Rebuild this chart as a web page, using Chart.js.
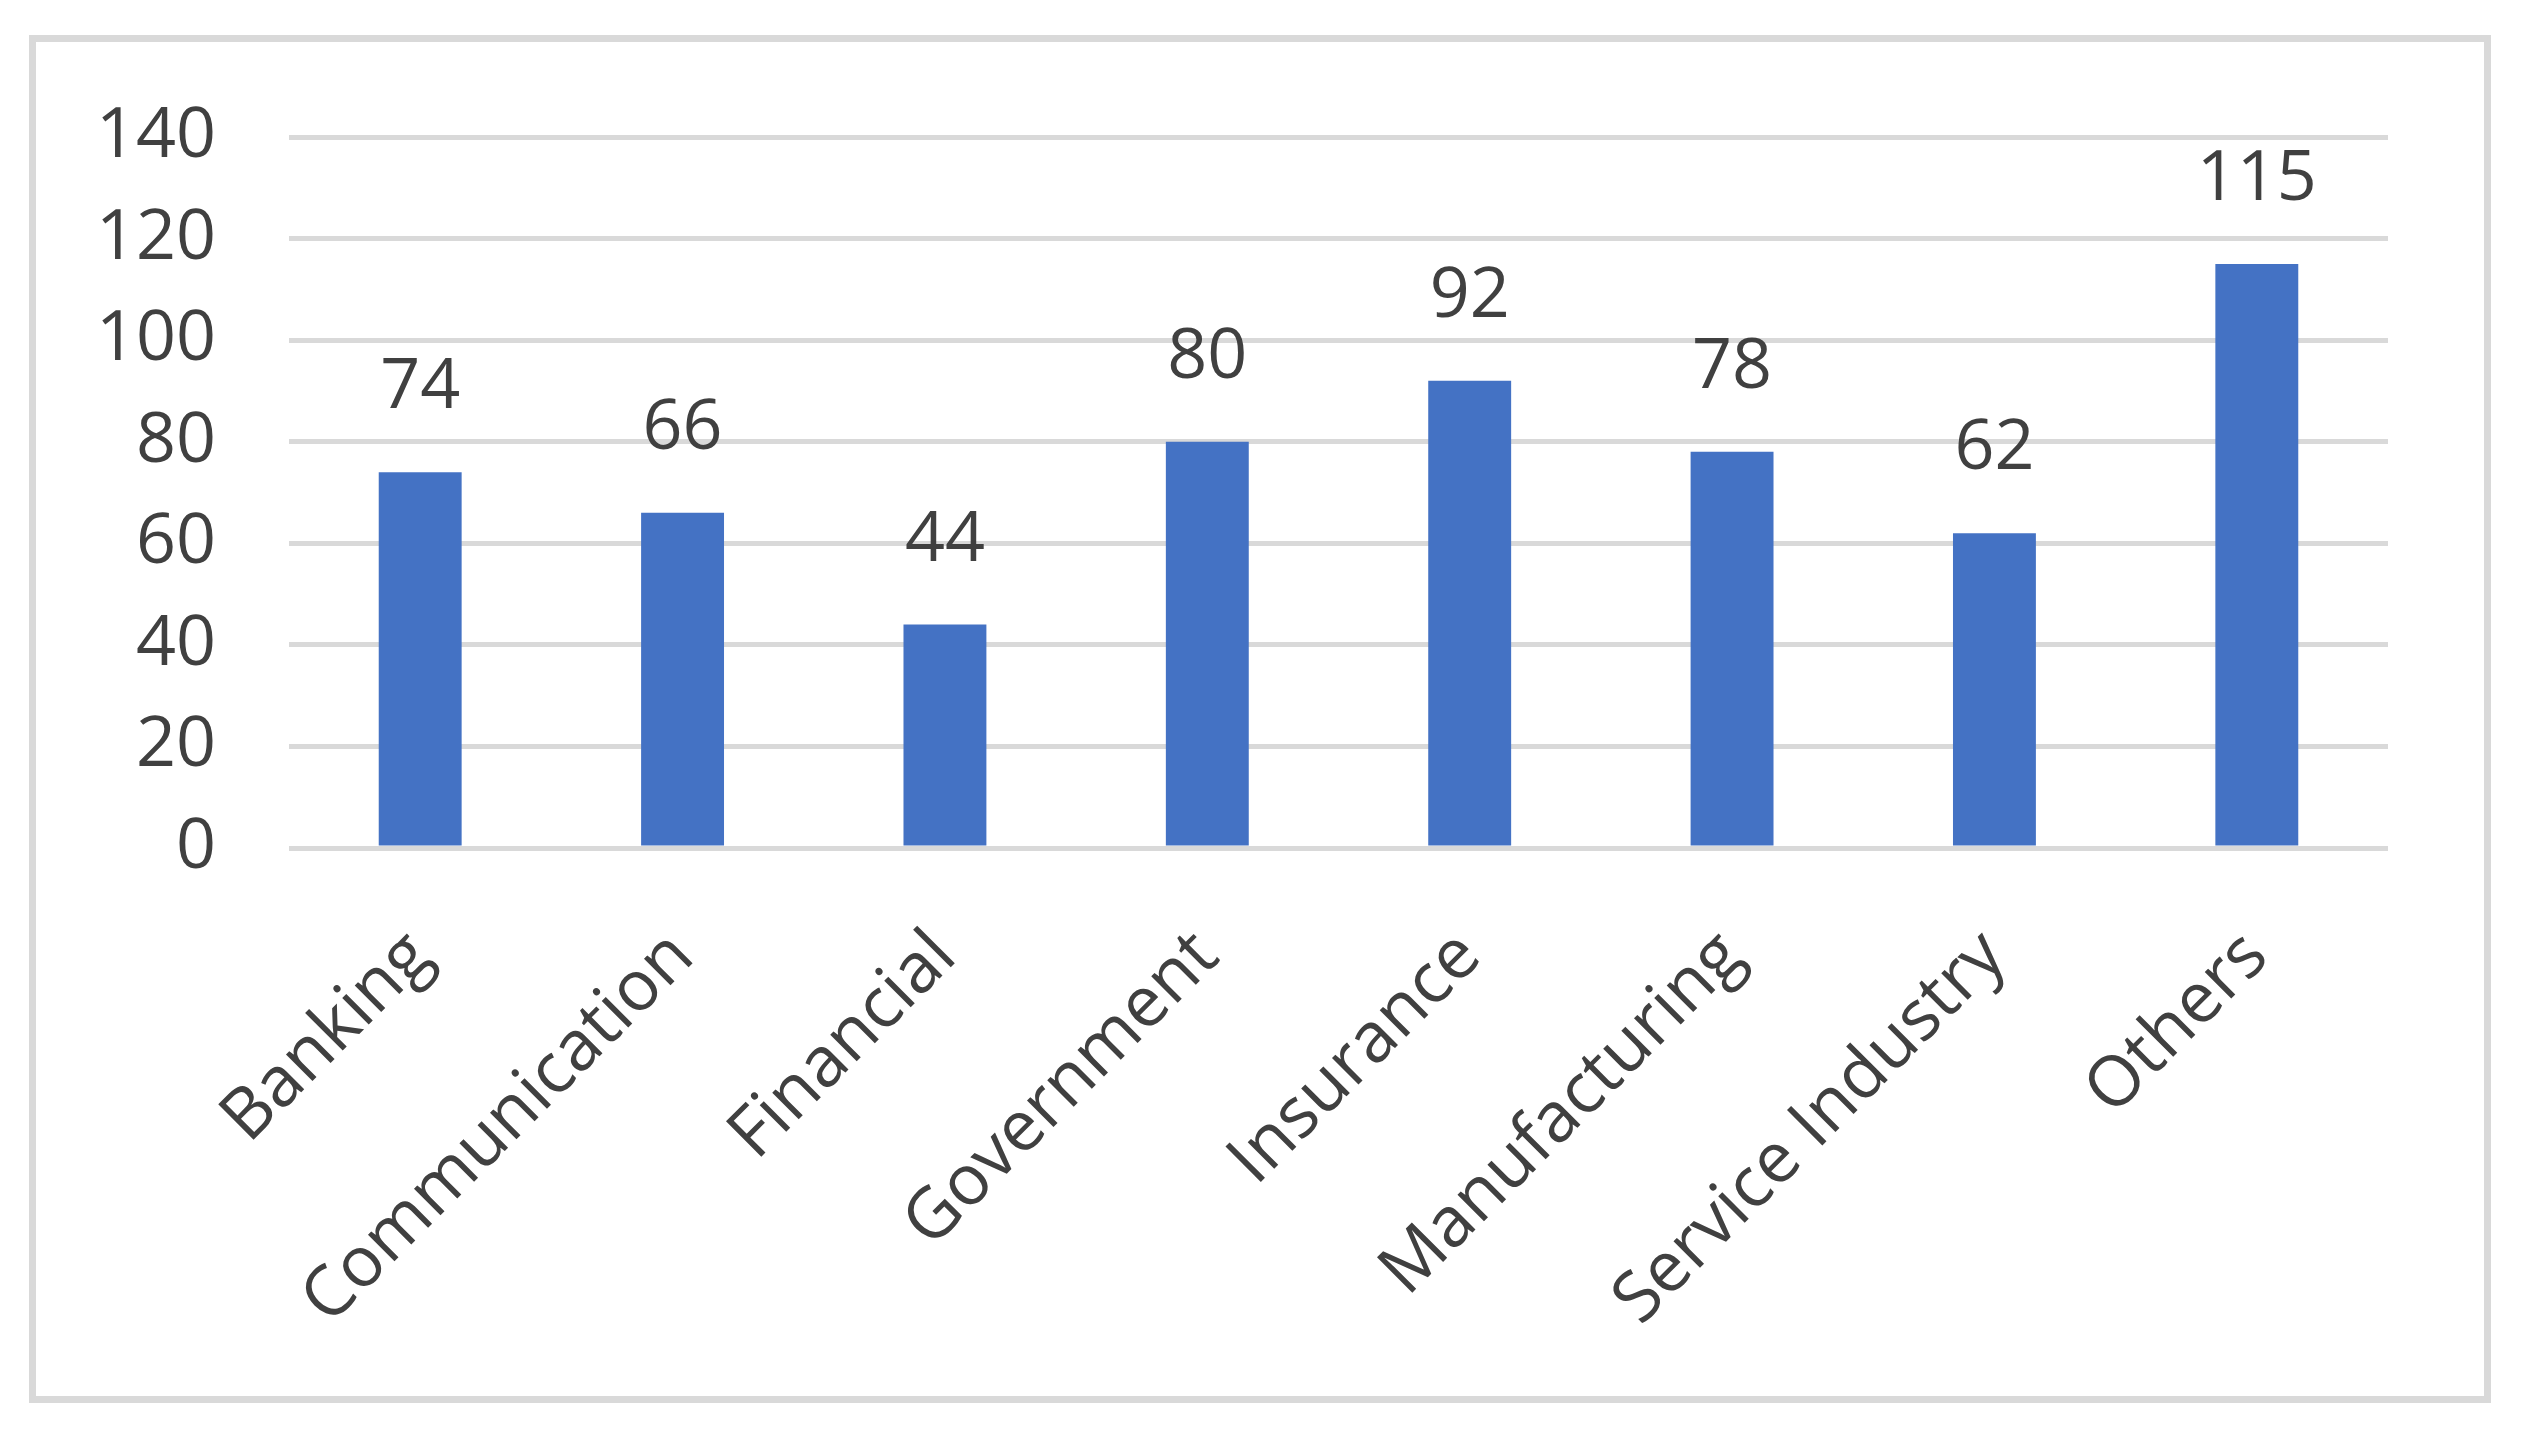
<!DOCTYPE html>
<html>
<head>
<meta charset="utf-8">
<title>Industry bar chart</title>
<script src="https://cdn.jsdelivr.net/npm/chart.js@4.4.1/dist/chart.umd.min.js"></script>
<style>
  html, body { margin: 0; padding: 0; background: #ffffff; }
  #wrap { position: relative; width: 2522px; height: 1433px; }
  #frame {
    position: absolute; left: 29px; top: 35px; width: 2462px; height: 1368px;
    border: 7px solid #d9d9d9; box-sizing: border-box; pointer-events: none;
  }
  canvas { position: absolute; left: 0; top: 0; }
</style>
</head>
<body>
<div id="wrap">
  <canvas id="industryChart" width="2522" height="1433"></canvas>
  <div id="frame"></div>
</div>
<script>
/* Industry counts — single series column chart with value labels */
var categories = ['Banking', 'Communication', 'Financial', 'Government',
                  'Insurance', 'Manufacturing', 'Service Industry', 'Others'];
var counts = [74, 66, 44, 80, 92, 78, 62, 115];
var yTicks = [0, 20, 40, 60, 80, 100, 120, 140];

var textColor = '#404040';
var fontFamily = '"Open Sans", "Noto Sans", sans-serif';

// value labels above each bar, placed from the bar elements
var valueLabels = {
    id: 'valueLabels',
    afterDatasetsDraw: function(chart) {
        var ctx = chart.ctx;
        var meta = chart.getDatasetMeta(0);
        ctx.save();
        ctx.font = '70px ' + fontFamily;
        ctx.fillStyle = textColor;
        ctx.textAlign = 'center';
        ctx.textBaseline = 'alphabetic';
        meta.data.forEach(function(bar, i) {
            ctx.fillText(String(counts[i]), bar.x, bar.y - 64);
        });
        ctx.restore();
    }
};

new Chart(document.getElementById('industryChart').getContext('2d'), {
    type: 'bar',
    data: {
        labels: categories,
        datasets: [{
            data: counts,
            backgroundColor: '#4472C4',
            borderWidth: 0,
            barPercentage: 0.316,
            categoryPercentage: 1
        }]
    },
    options: {
        responsive: false,
        devicePixelRatio: 1,
        animation: false,
        layout: { padding: { left: 60, top: 137, right: 134, bottom: 0 } },
        plugins: { legend: { display: false }, tooltip: { enabled: false } },
        scales: {
            x: {
                grid: { display: false },
                border: { display: false },
                ticks: {
                    color: textColor,
                    font: { family: fontFamily, size: 70, lineHeight: 0.2 },
                    minRotation: 45, maxRotation: 45,
                    padding: 84,
                    autoSkip: false
                },
                afterFit: function(scale) { scale.height = 585; }
            },
            y: {
                min: yTicks[0],
                max: yTicks[yTicks.length - 1],
                grid: { color: '#d9d9d9', lineWidth: 5, drawTicks: false },
                border: { display: false },
                ticks: {
                    stepSize: yTicks[1] - yTicks[0],
                    color: textColor,
                    font: { family: fontFamily, size: 70 },
                    padding: 73
                },
                afterFit: function(scale) { scale.width = 229; }
            }
        }
    },
    plugins: [valueLabels]
});
</script>
</body>
</html>
